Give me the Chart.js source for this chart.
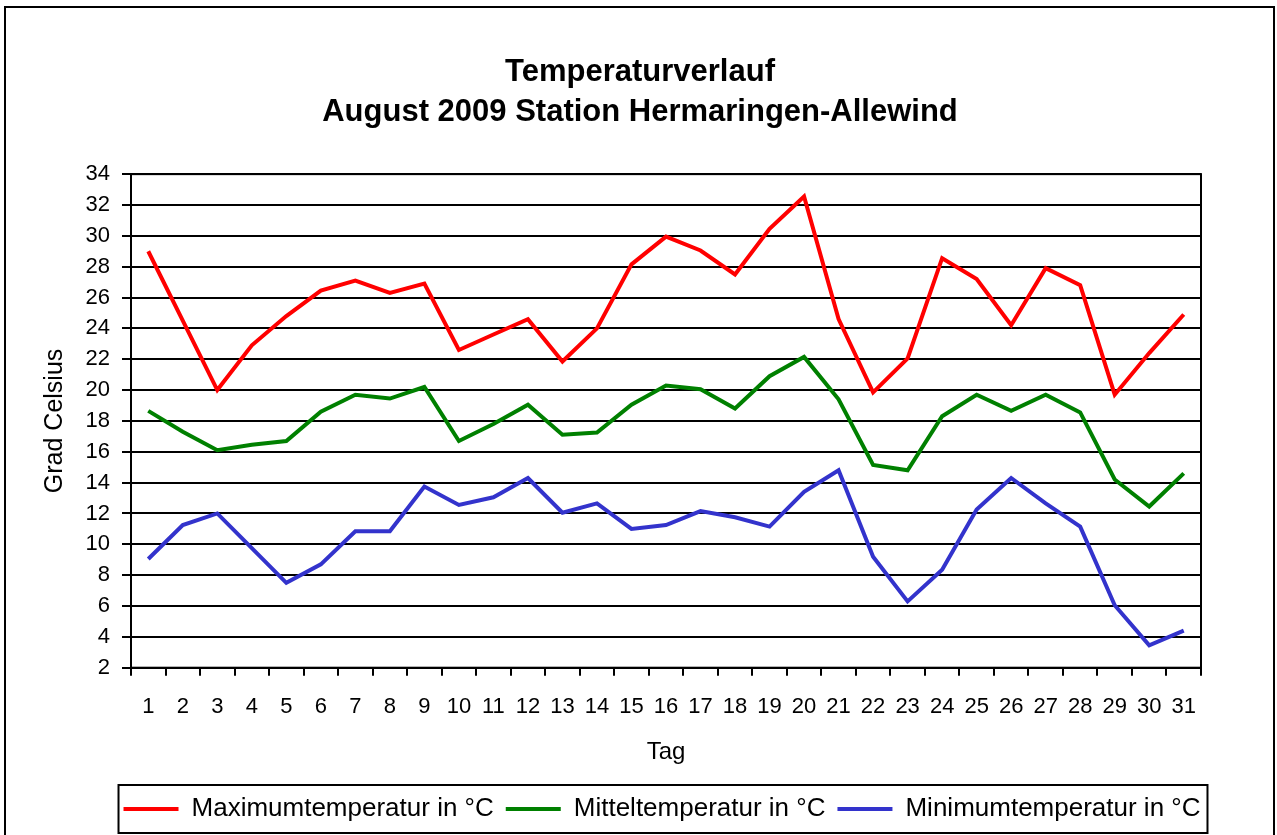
<!DOCTYPE html>
<html>
<head>
<meta charset="utf-8">
<script src="https://cdn.jsdelivr.net/npm/chart.js@4"></script>
<style>
  html, body { margin: 0; padding: 0; background: #fff; overflow: hidden; }
  #frame { position: absolute; left: 4px; top: 6px; width: 1267px; height: 900px; border: 2px solid #000; }
  #wrap { position: absolute; left: 0; top: 0; width: 1277px; height: 835px; }
</style>
</head>
<body>
<div id="frame"></div>
<div id="wrap"><canvas id="c" width="1277" height="835"></canvas></div>
<script>
const titleLines = ['Temperaturverlauf', 'August 2009 Station Hermaringen-Allewind'];
const days = ['1','2','3','4','5','6','7','8','9','10','11','12','13','14','15','16','17','18','19','20','21','22','23','24','25','26','27','28','29','30','31'];
const maxTemp = [29.0, 24.5, 20.0, 22.9, 24.8, 26.45, 27.1, 26.3, 26.9, 22.6, 23.6, 24.6, 21.85, 24.0, 28.15, 29.95, 29.05, 27.5, 30.45, 32.55, 24.6, 19.85, 22.05, 28.55, 27.2, 24.2, 27.9, 26.8, 19.7, 22.4, 24.9];
const meanTemp = [18.65, 17.3, 16.1, 16.45, 16.7, 18.6, 19.7, 19.45, 20.2, 16.7, 17.8, 19.05, 17.1, 17.25, 19.05, 20.3, 20.05, 18.8, 20.9, 22.15, 19.4, 15.15, 14.8, 18.3, 19.7, 18.65, 19.7, 18.55, 14.2, 12.45, 14.6];
const minTemp = [9.05, 11.25, 12.0, 9.75, 7.5, 8.7, 10.85, 10.85, 13.75, 12.55, 13.05, 14.3, 12.05, 12.65, 11.0, 11.25, 12.15, 11.75, 11.15, 13.4, 14.8, 9.2, 6.3, 8.35, 12.25, 14.3, 12.65, 11.15, 6.05, 3.45, 4.4];
const seriesNames = ['Maximumtemperatur in °C', 'Mitteltemperatur in °C', 'Minimumtemperatur in °C'];
const yMin = 2, yMax = 34, yStep = 2;
const xAxisTitle = 'Tag';
const yAxisTitle = 'Grad Celsius';

const FONT = "'Liberation Sans', Arial, sans-serif";

const shiftPlugin = {
  id: 'shiftBlocks',
  afterLayout(chart) {
    const t = chart.titleBlock;
    if (t) { t.left += 19.5; t.right += 19.5; }
    const l = chart.legend;
    if (l) { l.left += 41.5; l.right += 41.5; }
  }
};

const framePlugin = {
  id: 'frames',
  afterDraw(chart) {
    const ctx = chart.ctx;
    const a = chart.chartArea;
    ctx.save();
    ctx.strokeStyle = '#000';
    ctx.lineWidth = 2;
    ctx.strokeRect(a.left, a.top, a.right - a.left, a.bottom - a.top);
    const hb = chart.legend && chart.legend.legendHitBoxes;
    if (hb && hb.length) {
      let l = Infinity, r = -Infinity, t = Infinity, b = -Infinity;
      hb.forEach(h => { l = Math.min(l, h.left); r = Math.max(r, h.left + h.width); t = Math.min(t, h.top); b = Math.max(b, h.top + h.height); });
      ctx.strokeRect(l - 5, t - 11, (r - l) + 12, (b - t) + 22);
    }
    ctx.restore();
  }
};

new Chart(document.getElementById('c'), {
  type: 'line',
  data: {
    labels: days,
    datasets: [
      { label: seriesNames[0], data: maxTemp, borderColor: '#ff0000', backgroundColor: '#ff0000' },
      { label: seriesNames[1], data: meanTemp, borderColor: '#008000', backgroundColor: '#008000' },
      { label: seriesNames[2], data: minTemp, borderColor: '#3333cc', backgroundColor: '#3333cc' }
    ]
  },
  options: {
    responsive: false,
    animation: false,
    devicePixelRatio: 1,
    elements: {
      line: { borderWidth: 4, tension: 0, borderJoinStyle: 'miter' },
      point: { radius: 0, hoverRadius: 0 }
    },
    layout: { padding: { top: 0, left: 40, right: 76, bottom: 3 } },
    plugins: {
      tooltip: { enabled: false },
      title: {
        display: true,
        text: titleLines,
        color: '#000',
        font: { family: FONT, size: 31, weight: 'bold', lineHeight: 1.32 },
        padding: { top: 51.5, bottom: 40.8 }
      },
      legend: {
        display: true,
        position: 'bottom',
        labels: {
          color: '#000',
          font: { family: FONT, size: 26 },
          boxWidth: 55,
          boxHeight: 4,
          padding: 12,
          generateLabels(chart) {
            return chart.data.datasets.map((ds, i) => ({
              text: ds.label,
              fillStyle: ds.borderColor,
              strokeStyle: ds.borderColor,
              lineWidth: 0,
              hidden: false,
              datasetIndex: i
            }));
          }
        }
      }
    },
    scales: {
      x: {
        type: 'category',
        offset: true,
        grid: { display: true, offset: true, drawOnChartArea: false, drawTicks: true, tickLength: 8, color: '#000', lineWidth: 2 },
        border: { display: true, color: '#000', width: 2 },
        ticks: { color: '#000', font: { family: FONT, size: 22 }, padding: 18, maxRotation: 0, autoSkip: false },
        title: { display: true, text: xAxisTitle, color: '#000', font: { family: FONT, size: 24 }, padding: { top: 0, bottom: 17.1 } }
      },
      y: {
        min: yMin,
        max: yMax,
        grid: { display: true, drawTicks: true, tickLength: 9, color: '#000', lineWidth: 2 },
        border: { display: true, color: '#000', width: 2 },
        ticks: { stepSize: yStep, color: '#000', font: { family: FONT, size: 22 }, padding: 12 },
        title: { display: true, text: yAxisTitle, color: '#000', font: { family: FONT, size: 25 }, padding: 0 },
        afterFit(scale) { scale.width = 91; }
      }
    }
  },
  plugins: [shiftPlugin, framePlugin]
});
</script>
</body>
</html>
